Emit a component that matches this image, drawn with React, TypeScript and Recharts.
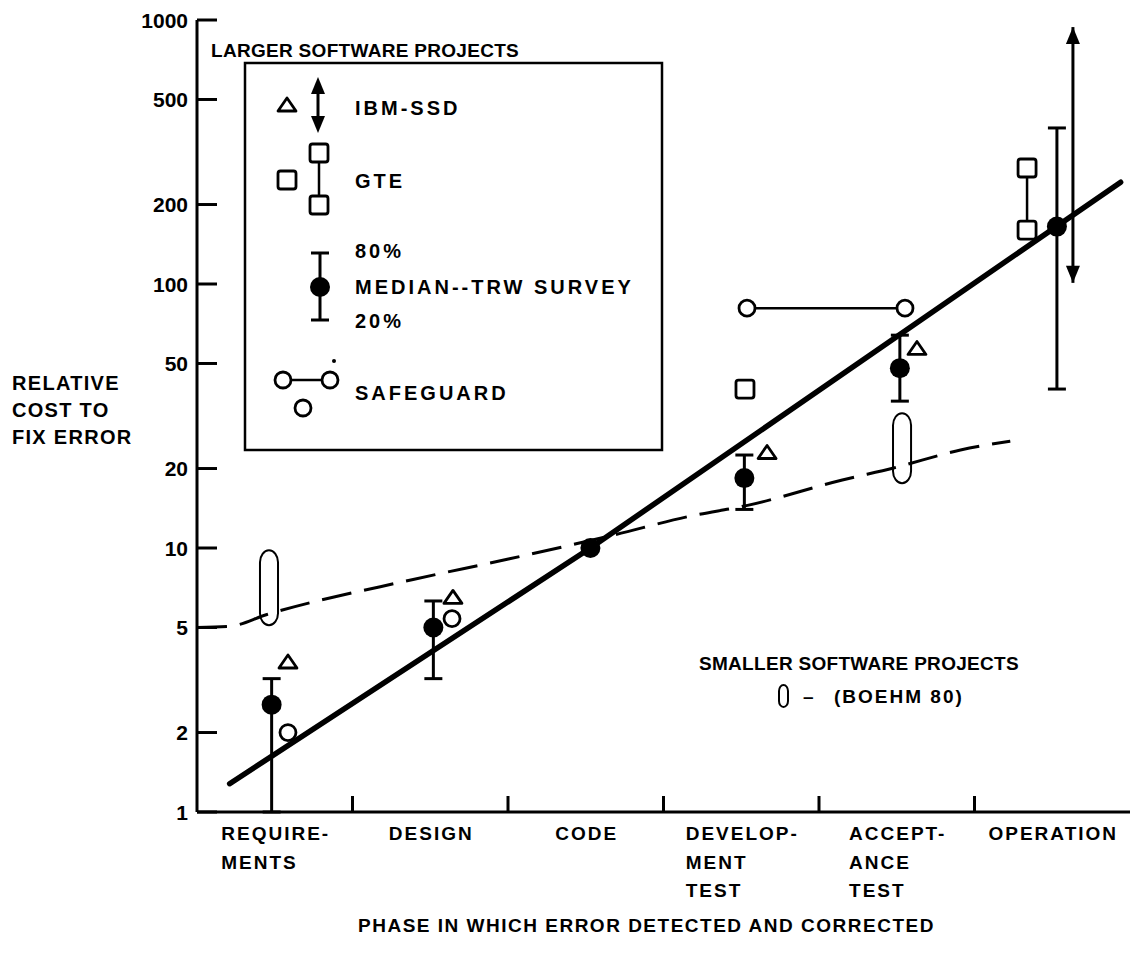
import React from 'react';
import { ComposedChart, Line, Scatter, XAxis, YAxis, ErrorBar, ReferenceArea } from 'recharts';

// x runs 0..6 across the six phases; each phase is one unit wide
const phases = [['REQUIRE-', 'MENTS'], ['DESIGN'], ['CODE'], ['DEVELOP-', 'MENT', 'TEST'], ['ACCEPT-', 'ANCE', 'TEST'], ['OPERATION']];
const phaseTicks = [0, 0.5, 1, 1.5, 2, 2.5, 3, 3.5, 4, 4.5, 5, 5.5, 6];
const phaseBounds = [1, 2, 3, 4, 5];
const costTicks = [1, 2, 5, 10, 20, 50, 100, 200, 500, 1000];

// TRW survey: median with 20% / 80% points
const trwX = [0.48, 1.52, 2.53, 3.52, 4.52, 5.53];
const trwMedian = [2.55, 5, 10, 18.4, 48, 165];
const trwLow = [1, 3.2, 10, 14, 36, 40];
const trwHigh = [3.2, 6.3, 10, 22.5, 64, 390];

// IBM-SSD
const ibmX = [0.585, 1.646, 3.666, 4.63];
const ibmCost = [3.7, 6.5, 23, 57];
const ibmRangeX = 5.633;
const ibmRange = [940, 101];

// GTE
const gteX = [3.524];
const gteCost = [40];
const gteRangeX = 5.338;
const gteRange = [275, 160];

// SAFEGUARD
const safeX = [0.585, 1.64];
const safeCost = [2, 5.4];
const safeSpanX = [3.537, 4.553];
const safeSpanCost = [81, 81];

// smaller projects (Boehm 80) ranges
const boehmX = [0.463, 4.534];
const boehmLow = [5.1, 17.6];
const boehmHigh = [9.8, 32.4];

// larger projects trend line
const trendX = [0.21, 2.53, 5.94];
const trendCost = [1.28, 10, 243];

// smaller projects trend line
const smallX = [0, 0.21, 0.45, 1.39, 2.01, 2.68, 3.17, 3.54, 4.15, 4.48, 4.91, 5.23];
const smallCost = [5, 5.05, 5.6, 7.6, 9.1, 11.2, 13.2, 14.5, 18.1, 20.1, 23.5, 25.4];

const FONT = '"Liberation Sans", Arial, Helvetica, sans-serif';
const BOEHM_HALF = 0.058;

const trwData = trwX.map((x, i) => ({ x, y: trwMedian[i], err: [trwMedian[i] - trwLow[i], trwHigh[i] - trwMedian[i]] }));
const ibmData = ibmX.map((x, i) => ({ x, y: ibmCost[i] }));
const ibmRangeData = ibmRange.map((y, i) => ({ x: ibmRangeX, y, dir: i === 0 ? -1 : 1 }));
const gteData = gteX.map((x, i) => ({ x, y: gteCost[i] }));
const gteRangeData = gteRange.map((y) => ({ x: gteRangeX, y }));
const safeData = safeX.map((x, i) => ({ x, y: safeCost[i] }));
const safeSpanData = safeSpanX.map((x, i) => ({ x, y: safeSpanCost[i] }));
const trendData = trendX.map((x, i) => ({ x, y: trendCost[i] }));
const smallData = smallX.map((x, i) => ({ x, y: smallCost[i] }));

let measureCtx: CanvasRenderingContext2D | null = null;
const textWidth = (s: string, size: number, spacing: number) => {
  if (!measureCtx && typeof document !== 'undefined') {
    measureCtx = document.createElement('canvas').getContext('2d');
  }
  if (!measureCtx) return s.length * size * 0.65;
  measureCtx.font = `bold ${size}px ${FONT}`;
  return measureCtx.measureText(s).width + spacing * (s.length - 1);
};

const txt = (size: number, spacing: number) => ({
  fontFamily: FONT,
  fontWeight: 'bold' as const,
  fontSize: size,
  letterSpacing: spacing,
  fill: '#000',
});
const titleText = txt(19, 0.3);
const phaseText = txt(19, 2);
const keyText = txt(20, 3);

// marker shapes
const Triangle = ({ cx, cy }: any) => (
  <path d={`M${cx},${cy - 7} L${cx + 9},${cy + 6} L${cx - 9},${cy + 6} Z`} fill="#fff" stroke="#000" strokeWidth={2.8} strokeLinejoin="round" />
);
const Ring = ({ cx, cy }: any) => <circle cx={cx} cy={cy} r={8} fill="#fff" stroke="#000" strokeWidth={2.8} />;
const Square = ({ cx, cy }: any) => (
  <rect x={cx - 9} y={cy - 9} width={18} height={18} rx={2.5} fill="#fff" stroke="#000" strokeWidth={2.8} />
);
const Disc = ({ cx, cy }: any) => <circle cx={cx} cy={cy} r={10} fill="#000" />;
const ArrowHead = ({ cx, cy, payload, dir }: any) => {
  const d = dir ?? payload?.dir ?? 1;
  return <path d={`M${cx},${cy} L${cx + 7},${cy - d * 17} L${cx - 7},${cy - d * 17} Z`} fill="#000" />;
};
const Capsule = (p: any) => (
  <rect x={p.x} y={p.y} width={p.width} height={p.height} rx={p.width / 2} ry={p.width / 1.5} fill="none" stroke="#000" strokeWidth={2} />
);

const CostTick = ({ x, y, payload }: any) => (
  <g>
    <line x1={x} y1={y} x2={x + 20} y2={y} stroke="#000" strokeWidth={3} />
    <text x={x - 9} y={y + 7.5} textAnchor="end" fontFamily={FONT} fontWeight="bold" fontSize={21}>
      {payload.value}
    </text>
  </g>
);

const RightTick = ({ x, y }: any) => <line x1={x} y1={y} x2={x - 18} y2={y} stroke="#000" strokeWidth={3} />;
const TopTick = ({ x, y }: any) => <line x1={x} y1={y} x2={x} y2={y + 15} stroke="#000" strokeWidth={3} />;

const PhaseTick = ({ x, y, payload }: any) => {
  const v = payload.value as number;
  if (Number.isInteger(v)) {
    if (v <= 0 || v >= 6) return <g />;
    return <line x1={x} y1={y} x2={x} y2={y - 16} stroke="#000" strokeWidth={3} />;
  }
  const lines = phases[Math.floor(v)];
  const w = Math.max(...lines.map((l) => textWidth(l, 19, 2)));
  const left = x - w / 2;
  return (
    <text x={left} y={y + 28} {...phaseText}>
      {lines.map((l, i) => (
        <tspan key={l + i} x={left} dy={i === 0 ? 0 : 28.5}>
          {l}
        </tspan>
      ))}
    </text>
  );
};

const CostLabel = ({ viewBox }: any) => {
  const mid = viewBox.y + viewBox.height / 2;
  const lines = ['RELATIVE', 'COST TO', 'FIX ERROR'];
  return (
    <text x={12} y={mid - 26} {...txt(20, 1.3)}>
      {lines.map((l, i) => (
        <tspan key={l} x={12} dy={i === 0 ? 0 : 27}>
          {l}
        </tspan>
      ))}
    </text>
  );
};

const PhaseLabel = ({ viewBox }: any) => (
  <text x={viewBox.x + viewBox.width / 2 - 17} y={932} textAnchor="middle" {...txt(19, 1.5)}>
    PHASE IN WHICH ERROR DETECTED AND CORRECTED
  </text>
);

const Key = () => (
  <svg width={1138} height={962} style={{ position: 'absolute', left: 0, top: 0, pointerEvents: 'none' }}>
    <text x={211} y={57} {...titleText}>LARGER SOFTWARE PROJECTS</text>
    <rect x={245} y={63} width={417} height={387} fill="none" stroke="#000" strokeWidth={2.5} />

    <Triangle cx={287} cy={105} />
    <line x1={318} y1={85} x2={318} y2={125} stroke="#000" strokeWidth={3} />
    <ArrowHead cx={318} cy={77} dir={-1} />
    <ArrowHead cx={318} cy={133} dir={1} />
    <text x={355} y={115} {...keyText}>IBM-SSD</text>

    <Square cx={287} cy={180} />
    <line x1={319} y1={160} x2={319} y2={198} stroke="#000" strokeWidth={2.5} />
    <Square cx={319} cy={153} />
    <Square cx={319} cy={205} />
    <text x={355} y={188} {...keyText}>GTE</text>

    <line x1={320} y1={253} x2={320} y2={320} stroke="#000" strokeWidth={3} />
    <line x1={311} y1={253} x2={329} y2={253} stroke="#000" strokeWidth={3} />
    <line x1={311} y1={320} x2={329} y2={320} stroke="#000" strokeWidth={3} />
    <Disc cx={320} cy={287} />
    <text x={355} y={258} {...keyText}>80%</text>
    <text x={355} y={294} {...keyText}>MEDIAN--TRW SURVEY</text>
    <text x={355} y={328} {...keyText}>20%</text>

    <line x1={283} y1={380} x2={330} y2={380} stroke="#000" strokeWidth={2.5} />
    <Ring cx={283} cy={380} />
    <Ring cx={330} cy={380} />
    <circle cx={334} cy={361} r={2} fill="#000" />
    <Ring cx={303} cy={408} />
    <text x={355} y={400} {...keyText}>SAFEGUARD</text>

    <text x={699} y={670} {...titleText}>SMALLER SOFTWARE PROJECTS</text>
    <rect x={779} y={685} width={9} height={22} rx={4.5} ry={6} fill="none" stroke="#000" strokeWidth={2} />
    <text x={803} y={703} {...titleText}>–</text>
    <text x={834} y={703} {...txt(19, 2)}>(BOEHM 80)</text>
  </svg>
);

const App = () => (
  <div style={{ position: 'absolute', left: 0, top: 0, width: 1138, height: 962, background: '#fff' }}>
    <ComposedChart width={1138} height={962} margin={{ top: 20, right: 8, bottom: 0, left: 0 }}>
      <XAxis
        dataKey="x"
        type="number"
        domain={[0, 6]}
        allowDataOverflow
        ticks={phaseTicks}
        interval={0}
        height={150}
        tickSize={0}
        tickMargin={0}
        tickLine={false}
        axisLine={{ stroke: '#000', strokeWidth: 3 }}
        tick={PhaseTick}
        label={PhaseLabel}
      />
      <XAxis
        xAxisId="top"
        orientation="top"
        type="number"
        domain={[0, 6]}
        allowDataOverflow
        ticks={phaseBounds}
        interval={0}
        height={0}
        tickSize={0}
        tickMargin={0}
        tickLine={false}
        axisLine={{ stroke: '#000', strokeWidth: 3 }}
        tick={TopTick}
      />
      <YAxis
        dataKey="y"
        type="number"
        scale="log"
        domain={[1, 1000]}
        allowDataOverflow
        ticks={costTicks}
        interval={0}
        width={197}
        tickSize={0}
        tickMargin={0}
        tickLine={false}
        axisLine={{ stroke: '#000', strokeWidth: 3 }}
        tick={CostTick}
        label={CostLabel}
      />
      <YAxis
        yAxisId="right"
        orientation="right"
        type="number"
        scale="log"
        domain={[1, 1000]}
        allowDataOverflow
        ticks={costTicks}
        interval={0}
        width={0}
        tickSize={0}
        tickMargin={0}
        tickLine={false}
        axisLine={{ stroke: '#000', strokeWidth: 3 }}
        tick={RightTick}
      />

      {boehmX.map((x, i) => (
        <ReferenceArea key={x} x1={x - BOEHM_HALF} x2={x + BOEHM_HALF} y1={boehmLow[i]} y2={boehmHigh[i]} shape={Capsule} />
      ))}

      <Line data={smallData} dataKey="y" type="monotone" stroke="#000" strokeWidth={3} strokeDasharray="30 13" dot={false} activeDot={false} isAnimationActive={false} />
      <Line data={trendData} dataKey="y" type="linear" stroke="#000" strokeWidth={5.5} strokeLinecap="round" dot={false} activeDot={false} isAnimationActive={false} />

      <Scatter data={trwData} shape={Disc} isAnimationActive={false}>
        <ErrorBar dataKey="err" direction="y" width={9} strokeWidth={3} stroke="#000" isAnimationActive={false} />
      </Scatter>
      <Scatter data={ibmRangeData} shape={ArrowHead} line={{ stroke: '#000', strokeWidth: 3 }} isAnimationActive={false} />
      <Scatter data={ibmData} shape={Triangle} isAnimationActive={false} />
      <Scatter data={gteRangeData} shape={Square} line={{ stroke: '#000', strokeWidth: 2.5 }} isAnimationActive={false} />
      <Scatter data={gteData} shape={Square} isAnimationActive={false} />
      <Scatter data={safeSpanData} shape={Ring} line={{ stroke: '#000', strokeWidth: 2.5 }} isAnimationActive={false} />
      <Scatter data={safeData} shape={Ring} isAnimationActive={false} />
    </ComposedChart>
    <Key />
  </div>
);

export default App;
